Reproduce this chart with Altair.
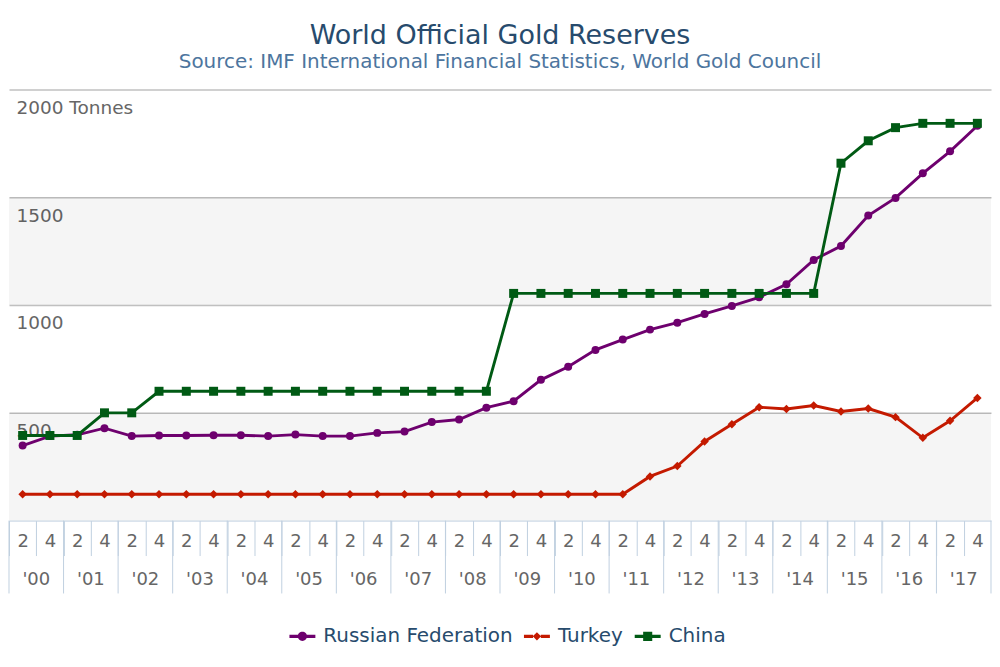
import altair as alt
import pandas as pd

# semi-annual readings, 2000 Q2 .. 2017 Q4 (tonnes)
years = ["'00", "'01", "'02", "'03", "'04", "'05", "'06", "'07", "'08",
         "'09", "'10", "'11", "'12", "'13", "'14", "'15", "'16", "'17"]
halves = ["2", "4"]

series_names = ["Russian Federation", "Turkey", "China"]
series_colors = ["#6e006e", "#c41a00", "#005a14"]

russia = [348, 392, 398, 429, 392, 395, 395, 396, 396, 392, 399, 392,
          392, 407, 413, 457, 469, 524, 554, 653, 714, 792, 840, 886,
          918, 959, 996, 1036, 1096, 1209, 1274, 1415, 1497, 1611, 1713, 1832]
turkey = [122, 122, 122, 122, 122, 122, 122, 122, 122, 122, 122, 122,
          122, 122, 122, 122, 122, 122, 122, 122, 122, 122, 122, 205,
          253, 367, 447, 526, 518, 534, 506, 520, 480, 384, 463, 569]
china = [395, 395, 395, 500, 500, 600, 600, 600, 600, 600, 600, 600,
         600, 600, 600, 600, 600, 600, 1054, 1054, 1054, 1054, 1054, 1054,
         1054, 1054, 1054, 1054, 1054, 1054, 1658, 1762, 1823, 1843, 1843, 1843]

band_lo = [0, 1000]
band_hi = [500, 1500]

W = 984
H = 432
n_periods = len(years) * len(halves)
CW = W / n_periods

rows = []
for name, vals in zip(series_names, [russia, turkey, china]):
    for i, v in enumerate(vals):
        rows.append({'series': name, 'pos': i + 0.5, 'value': v})
df = pd.DataFrame(rows)

bands_df = pd.DataFrame({'lo': band_lo, 'hi': band_hi})
years_df = pd.DataFrame({'year': years, 'pos': [2 * k + 1 for k in range(len(years))]})
seps_df = pd.DataFrame({'pos': [2 * k for k in range(len(years) + 1)]})

font = 'DejaVu Sans'
axis_blue = '#c0d0e0'

x_scale = alt.Scale(domain=[0, n_periods], nice=False, zero=False)
y_scale = alt.Scale(domain=[0, 2000], nice=False)

# ticks sit on the period boundaries, labels are pushed half a period right
x_axis = alt.Axis(
    values=list(range(n_periods)),
    labelExpr="datum.value % 2 == 0 ? '2' : '4'",
    labelOffset=CW / 2, labelFlush=False, labelOverlap=False,
    tickSize=35, labelPadding=-23, labelAlign='center', labelBaseline='top',
    grid=False, domainColor=axis_blue, tickColor=axis_blue, tickWidth=1,
    labelColor='#666666', labelFontSize=18, labelFont=font, title=None)
y_axis = alt.Axis(
    values=[500, 1000, 1500, 2000], format='d',
    labelExpr="datum.value == 2000 ? '2000 Tonnes' : datum.label",
    labelAlign='left', labelBaseline='top', labelPadding=-7, labelOffset=9,
    ticks=False, tickSize=0, domain=False, grid=True,
    gridColor='#c0c0c0', gridWidth=1.5,
    labelColor='#666666', labelFontSize=18.5, labelFont=font, title=None)


def xq(field='pos'):
    return alt.X(field + ':Q', scale=x_scale, axis=x_axis)


def yq(field='value'):
    return alt.Y(field + ':Q', scale=y_scale, axis=y_axis)


bands = alt.Chart(bands_df).mark_rect(color='black', opacity=0.04).encode(
    y=yq('lo'),
    y2='hi:Q',
    x=alt.value(0),
    x2=alt.value(W)
)

shapes = {'Russian Federation': ('circle', 64), 'Turkey': ('diamond', 72), 'China': ('square', 81)}
series_layers = []
for name, col in zip(series_names, series_colors):
    shp, sz = shapes[name]
    base = alt.Chart(df).transform_filter(alt.datum.series == name)
    series_layers.append(base.mark_line(color=col, strokeWidth=2.9).encode(x=xq(), y=yq()))
    series_layers.append(
        base.mark_point(shape=shp, size=sz, filled=True, opacity=1, color=col)
        .encode(x=xq(), y=yq())
    )

# legend symbols: a line stub with the marker on it
bar = "M-1,-0.12H-0.3V0.12H-1ZM0.3,-0.12H1V0.12H0.3Z"
legend_paths = [
    bar + "M0.36,0A0.36,0.36,0,1,1,-0.36,0A0.36,0.36,0,1,1,0.36,0Z",
    bar + "M0,-0.32L0.32,0L0,0.32L-0.32,0Z",
    bar + "M-0.35,-0.35H0.35V0.35H-0.35Z",
]
legend_layer = alt.Chart(df).transform_filter('false').mark_point(filled=True).encode(
    x=xq(), y=yq(),
    color=alt.Color('series:N', scale=alt.Scale(domain=series_names, range=series_colors), title=None),
    shape=alt.Shape('series:N', scale=alt.Scale(domain=series_names, range=legend_paths), title=None)
)

seps = alt.Chart(seps_df).mark_rule(color=axis_blue, strokeWidth=1).encode(
    x=xq(),
    y=alt.value(H),
    y2=alt.value(H + 73)
)

year_text = alt.Chart(years_df).mark_text(
    font=font, fontSize=18, color='#666666', baseline='middle', align='center'
).encode(
    x=xq(),
    y=alt.value(H + 60),
    text='year:N'
)

chart = alt.layer(bands, *series_layers, legend_layer, seps, year_text).properties(
    width=W,
    height=H,
    padding={'left': 0, 'right': 0, 'top': 13, 'bottom': 2},
    title=alt.TitleParams(
        text='World Official Gold Reserves',
        subtitle='Source: IMF International Financial Statistics, World Gold Council',
        font=font, subtitleFont=font,
        fontSize=27, subtitleFontSize=20,
        fontWeight='normal',
        color='#274b6d', subtitleColor='#4d759e',
        anchor='middle', offset=17, subtitlePadding=2
    )
).configure_view(
    stroke=None
).configure_legend(
    orient='none', legendX=281, legendY=535, direction='horizontal',
    labelFont=font, labelFontSize=20, labelColor='#274b6d', labelLimit=0,
    symbolSize=676, symbolStrokeWidth=0, symbolOpacity=1, labelOffset=8,
    columnPadding=11
)

chart.save("out.html", embed_options={"renderer": "svg", "actions": False})
